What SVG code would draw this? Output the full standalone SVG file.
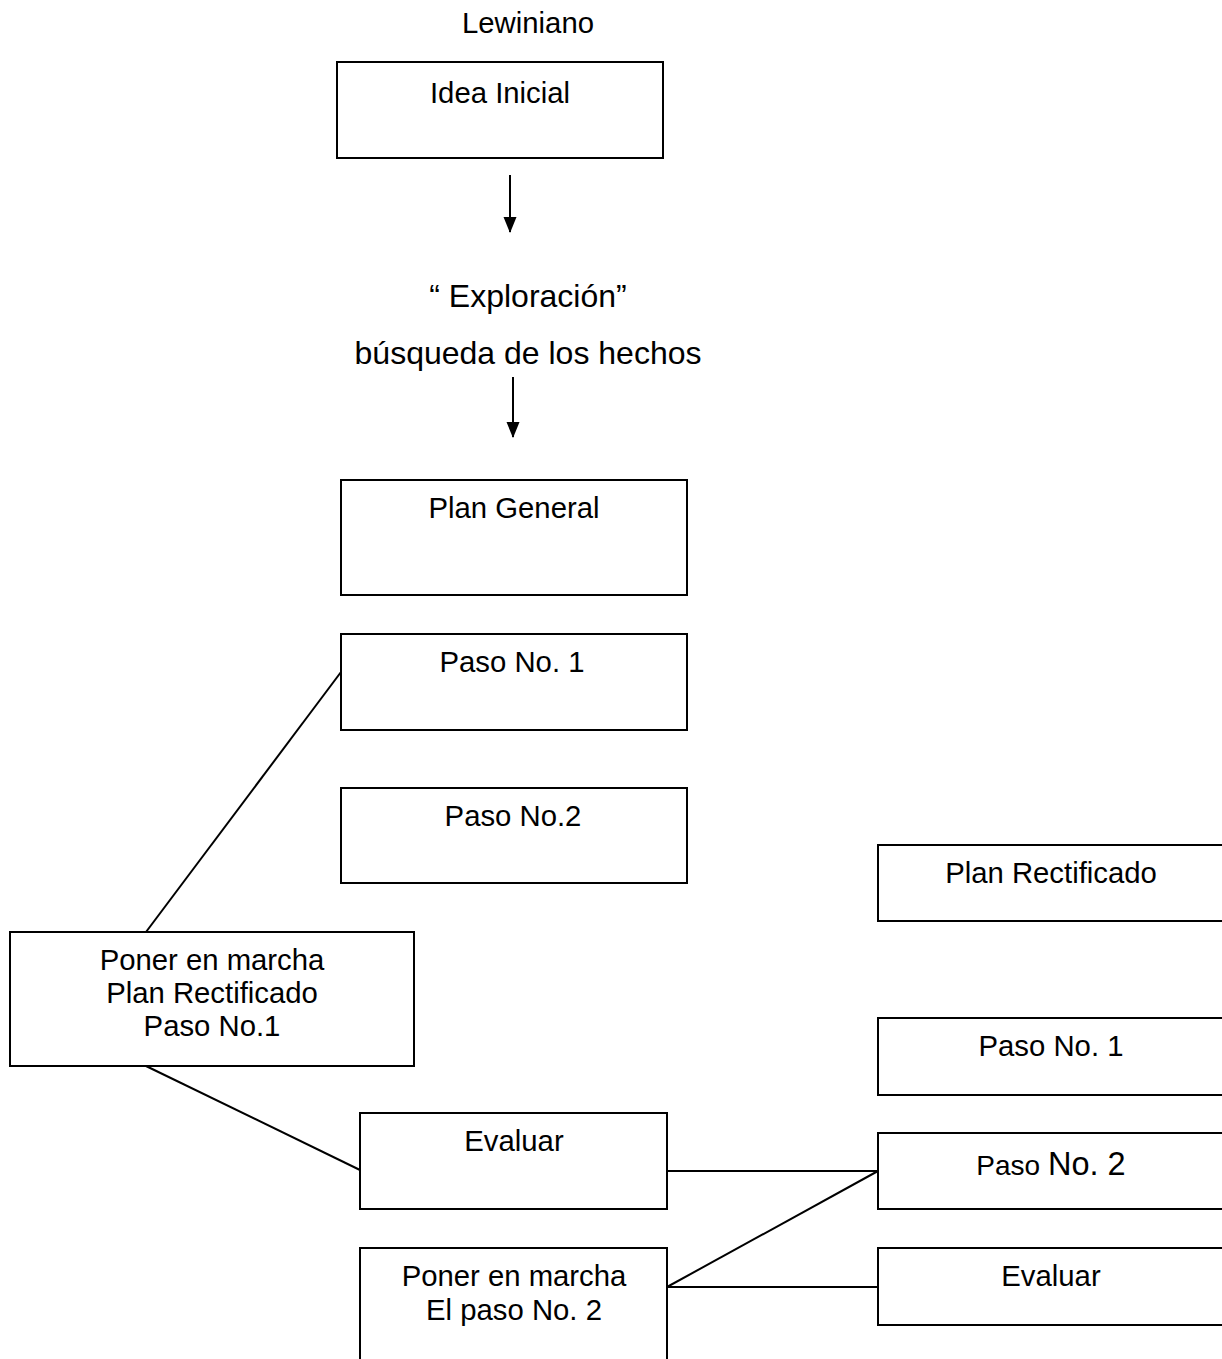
<svg xmlns="http://www.w3.org/2000/svg" width="1222" height="1359" viewBox="0 0 1222 1359">
<style>
.box{fill:#fff;stroke:#000;stroke-width:2}
.t{font-family:"Liberation Sans",Arial,sans-serif;font-size:29.3px;fill:#000;text-anchor:middle}
.big{font-size:32px}
.c{stroke:#000;stroke-width:2;fill:none}
</style>
<defs>
<marker id="ah" markerWidth="16" markerHeight="16" refX="15" refY="8" orient="auto" markerUnits="userSpaceOnUse" viewBox="0 0 16 16">
<path d="M0,1.5 L16,8 L0,14.5 Z" fill="#000"/>
</marker>
</defs>
<rect width="1222" height="1359" fill="#fff"/>
<text class="t" x="528" y="33" font-size="31">Lewiniano</text>
<g id="idea"><rect class="box" x="337" y="62" width="326" height="96"/><text class="t" x="500" y="103" font-size="31.5">Idea Inicial</text></g>
<g id="exploracion"><text class="t big" x="528" y="307">“ Exploración”</text><text class="t big" x="528" y="364">búsqueda de los hechos</text></g>
<g id="plan-general"><rect class="box" x="341" y="480" width="346" height="115"/><text class="t" x="514" y="518">Plan General</text></g>
<g id="paso1"><rect class="box" x="341" y="634" width="346" height="96"/><text class="t" x="512" y="672">Paso No. 1</text></g>
<g id="paso2"><rect class="box" x="341" y="788" width="346" height="95"/><text class="t" x="513" y="826">Paso No.2</text></g>
<g id="plan-rect"><rect class="box" x="878" y="845" width="360" height="76"/><text class="t" x="1051" y="883">Plan Rectificado</text></g>
<g id="poner1"><rect class="box" x="10" y="932" width="404" height="134"/><text class="t" x="212" y="970">Poner en marcha</text><text class="t" x="212" y="1003">Plan Rectificado</text><text class="t" x="212" y="1036">Paso No.1</text></g>
<g id="paso1-r"><rect class="box" x="878" y="1018" width="360" height="77"/><text class="t" x="1051" y="1056">Paso No. 1</text></g>
<g id="evaluar1"><rect class="box" x="360" y="1113" width="307" height="96"/><text class="t" x="514" y="1151" font-size="29">Evaluar</text></g>
<g id="paso2-r"><rect class="box" x="878" y="1133" width="360" height="76"/><text class="t" x="1051" y="1175"><tspan font-size="28">Paso </tspan><tspan font-size="32.5">No. 2</tspan></text></g>
<g id="evaluar2"><rect class="box" x="878" y="1248" width="360" height="77"/><text class="t" x="1051" y="1286" font-size="29">Evaluar</text></g>
<g id="poner2"><rect class="box" x="360" y="1248" width="307" height="130"/><text class="t" x="514" y="1286">Poner en marcha</text><text class="t" x="514" y="1320">El paso No. 2</text></g>
<g id="connectors">
<line class="c" x1="510" y1="175" x2="510" y2="232" marker-end="url(#ah)"/>
<line class="c" x1="513" y1="377" x2="513" y2="437" marker-end="url(#ah)"/>
<line class="c" x1="341" y1="672" x2="146" y2="932"/>
<line class="c" x1="146" y1="1066" x2="360" y2="1170"/>
<line class="c" x1="667" y1="1171" x2="878" y2="1171"/>
<line class="c" x1="667" y1="1287" x2="878" y2="1171"/>
<line class="c" x1="667" y1="1287" x2="878" y2="1287"/>
</g>
</svg>
